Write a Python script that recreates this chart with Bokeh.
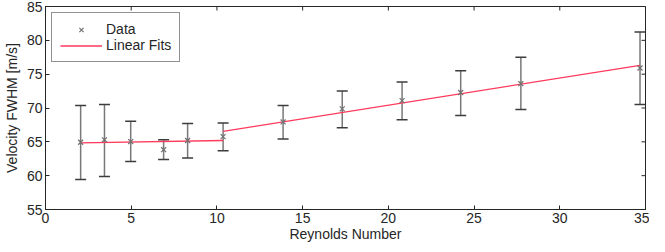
import math
from bokeh.plotting import figure
from bokeh.models import ColumnDataSource, Whisker, TeeHead, Range1d, FixedTicker, Legend, LegendItem
from bokeh.embed import file_html
from bokeh.resources import INLINE

# Data
reynolds = [2.05, 3.44, 4.97, 6.89, 8.29, 10.36, 13.86, 17.31, 20.8, 24.22, 27.73, 34.68]
velocity = [64.94, 65.3, 65.04, 63.84, 65.2, 65.77, 67.94, 69.87, 71.09, 72.29, 73.59, 75.91]
err_upper = [70.36, 70.5, 68.04, 65.29, 67.7, 67.8, 70.36, 72.53, 73.84, 75.52, 77.5, 81.23]
err_lower = [59.44, 59.87, 62.1, 62.39, 62.62, 63.7, 65.43, 67.07, 68.28, 68.91, 69.78, 70.51]

fit1_x = [2.05, 10.36]
fit1_y = [64.85, 65.2]
fit2_x = [10.36, 34.68]
fit2_y = [66.54, 76.3]

x_ticks = [0, 5, 10, 15, 20, 25, 30, 35]
y_ticks = [55, 60, 65, 70, 75, 80, 85]

FONT = "Liberation Sans"
TXT = "#262626"
FS = "14px"

x_min, x_max = x_ticks[0], x_ticks[-1]
y_min, y_max = y_ticks[0], y_ticks[-1]

p = figure(width=649, height=244, output_backend="svg", toolbar_location=None,
           x_range=Range1d(x_min, x_max), y_range=Range1d(y_min, y_max),
           min_border_left=0, min_border_right=4, min_border_top=6, min_border_bottom=0)
p.xgrid.visible = False
p.ygrid.visible = False
p.outline_line_color = TXT
p.outline_line_width = 1
p.outline_line_alpha = 1

src = ColumnDataSource(dict(x=reynolds, y=velocity, up=err_upper, lo=err_lower))

wh = Whisker(source=src, base="x", upper="up", lower="lo",
             line_color="#787878", line_width=1.5,
             upper_head=TeeHead(size=11, line_color="#3c3c3c", line_width=1.5),
             lower_head=TeeHead(size=11, line_color="#3c3c3c", line_width=1.5))
p.add_layout(wh)

fits = p.multi_line(xs=[fit1_x, fit2_x], ys=[fit1_y, fit2_y], line_color="#ff3a5c", line_width=1.3)
pts = p.scatter("x", "y", source=src, marker="x", size=7, line_color="#707070", line_width=1.2)

# inward ticks on the top and right edges of the box (half of each dash is clipped by the frame)
p.scatter(x=x_ticks, y=[y_max] * len(x_ticks), marker="dash", angle=math.pi / 2, size=8,
          line_color=TXT, line_width=1)
p.scatter(x=[x_max] * len(y_ticks), y=y_ticks, marker="dash", size=8,
          line_color=TXT, line_width=1)

legend = Legend(items=[LegendItem(label="Data", renderers=[pts]),
                       LegendItem(label="Linear Fits", renderers=[fits])],
                location="top_left")
legend.label_text_font = FONT
legend.label_text_font_size = FS
legend.label_text_color = TXT
legend.border_line_color = TXT
legend.border_line_width = 1
legend.background_fill_color = "white"
legend.background_fill_alpha = 1
legend.glyph_width = 42
legend.glyph_height = 15
legend.label_height = 15
legend.label_standoff = 4
legend.spacing = 0
legend.padding = 8
legend.margin = 6
p.add_layout(legend)

def style_axis(ax, ticks):
    ax.ticker = FixedTicker(ticks=ticks)
    ax.major_tick_in = 4
    ax.major_tick_out = 0
    ax.minor_tick_in = 0
    ax.minor_tick_out = 0
    ax.axis_line_color = TXT
    ax.major_tick_line_color = TXT
    ax.major_label_text_font = FONT
    ax.major_label_text_color = TXT
    ax.major_label_text_font_size = FS
    ax.major_label_standoff = 3
    ax.axis_label_text_font = FONT
    ax.axis_label_text_color = TXT
    ax.axis_label_text_font_style = "normal"
    ax.axis_label_text_font_size = FS

style_axis(p.xaxis[0], x_ticks)
style_axis(p.yaxis[0], y_ticks)
p.xaxis[0].major_label_standoff = 3
p.xaxis[0].axis_label = "Reynolds Number"
p.xaxis[0].axis_label_standoff = 0
p.yaxis[0].axis_label = "Velocity FWHM [m/s]"
p.yaxis[0].axis_label_standoff = 4

open("out.html", "w").write(file_html(p, INLINE))
